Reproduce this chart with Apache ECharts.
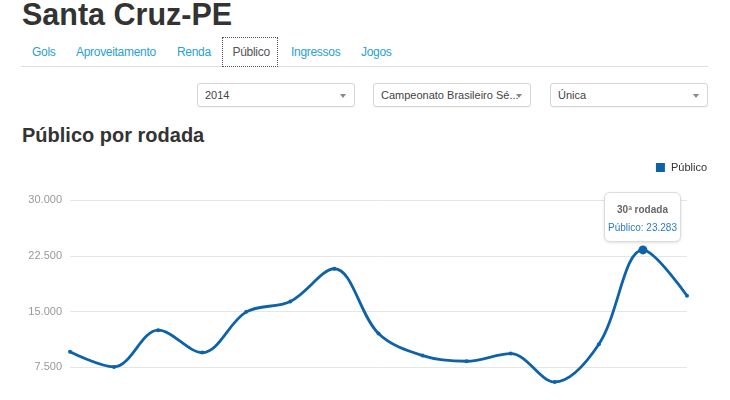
<!DOCTYPE html>
<html>
<head>
<meta charset="utf-8">
<script src="https://cdn.jsdelivr.net/npm/echarts@6/dist/echarts.min.js"></script>
<style>
  html, body { margin:0; padding:0; width:730px; height:400px; overflow:hidden; background:#fff; font-family:"Liberation Sans", Arial, sans-serif; }
  .t { position:absolute; white-space:nowrap; }
  .h1 { left:22px; top:-1px; font-size:30.5px; line-height:30.5px; font-weight:bold; color:#333; }
  .tab { top:46px; font-size:12px; line-height:12px; color:#2a9fd6; letter-spacing:-0.3px; }
  .tab.act { color:#555; }
  .tabline { position:absolute; left:21px; width:687px; top:66px; height:1px; background:#ddd; }
  .tabbox { position:absolute; left:222px; top:37px; width:54px; height:28px; border:1px dotted #555; background:#fff; }
  .sel { position:absolute; top:83px; width:156px; height:22px; border:1px solid #d4d4d4; border-radius:3px; background:#fff; box-shadow:0 1px 1px rgba(0,0,0,0.04); }
  .sel span { position:absolute; left:7px; top:6px; font-size:11px; line-height:11px; color:#444; }
  .sel i { position:absolute; right:8px; top:10px; width:0; height:0; border-left:3.5px solid transparent; border-right:3.5px solid transparent; border-top:4px solid #888; }
  .h2 { left:22px; top:124.5px; font-size:20px; line-height:20px; font-weight:bold; color:#333; }
  #chart { position:absolute; left:0; top:150px; width:730px; height:300px; }
</style>
</head>
<body>
<div class="t h1">Santa Cruz-PE</div>
<div class="tabline"></div>
<div class="tabbox"></div>
<div class="t tab" style="left:32px">Gols</div>
<div class="t tab" style="left:76px">Aproveitamento</div>
<div class="t tab" style="left:177px">Renda</div>
<div class="t tab act" style="left:232.5px">Público</div>
<div class="t tab" style="left:291px">Ingressos</div>
<div class="t tab" style="left:361px">Jogos</div>
<div class="sel" style="left:197px"><span>2014</span><i></i></div>
<div class="sel" style="left:373px"><span>Campeonato Brasileiro Sé...</span><i></i></div>
<div class="sel" style="left:550px"><span>Única</span><i></i></div>
<div class="t h2">Público por rodada</div>
<div id="chart"></div>
<script>
// Data
var rodadas = ['1ª rodada','3ª rodada','5ª rodada','8ª rodada','10ª rodada','12ª rodada','14ª rodada','16ª rodada','18ª rodada','20ª rodada','22ª rodada','25ª rodada','27ª rodada','30ª rodada','32ª rodada'];
var publico = [9600, 7550, 12490, 9470, 14950, 16350, 20750, 12030, 9070, 8310, 9340, 5520, 10600, 23283, 17110];
var yTicks = [0, 7500, 15000, 22500, 30000];
var seriesName = 'Público';
var highlightIndex = 13;

function fmt(v) { return String(v).replace(/\B(?=(\d{3})+(?!\d))/g, '.'); }

var color = '#0e62a8';
var chart = echarts.init(document.getElementById('chart'), null, { renderer: 'canvas' });
chart.setOption({
  animation: false,
  textStyle: { fontFamily: '"Liberation Sans", Arial, sans-serif' },
  legend: {
    right: 18, top: 7,
    icon: 'rect', itemWidth: 9, itemHeight: 9, itemGap: 10,
    textStyle: { fontSize: 11, color: '#333', padding: [0, 0, 0, 1] },
    data: [seriesName]
  },
  grid: { left: 70, right: 43, top: 50, height: 223, containLabel: false },
  tooltip: {
    trigger: 'item',
    triggerOn: 'none',
    alwaysShowContent: true,
    transitionDuration: 0,
    backgroundColor: '#fff',
    borderColor: '#dcdcdc',
    borderWidth: 1,
    borderRadius: 6,
    padding: 0,
    extraCssText: 'box-shadow:0 1px 3px rgba(0,0,0,0.12);',
    position: function (point, params, dom, rect, size) {
      return [point[0] - size.contentSize[0] / 2, point[1] - size.contentSize[1] - 8];
    },
    formatter: function (p) {
      return '<div style="width:75px;height:48px;text-align:center;font-family:\'Liberation Sans\',Arial,sans-serif;">' +
        '<div style="padding-top:11px;font-size:10px;line-height:11px;font-weight:bold;color:#666;">' + p.name + '</div>' +
        '<div style="padding-top:7px;font-size:10px;line-height:11px;color:#2b7bbf;">' + p.seriesName + ': ' + fmt(p.value) + '</div>' +
        '</div>';
    }
  },
  xAxis: {
    type: 'category',
    data: rodadas,
    boundaryGap: false,
    axisLine: { show: false },
    axisTick: { show: false },
    axisLabel: { color: '#999', fontSize: 11 },
    splitLine: { show: false }
  },
  yAxis: {
    type: 'value',
    min: yTicks[0], max: yTicks[yTicks.length - 1], interval: yTicks[1] - yTicks[0],
    axisLine: { show: false },
    axisTick: { show: false },
    axisLabel: { color: '#999', fontSize: 11, margin: 8, formatter: function (v) { return fmt(v); } },
    splitLine: { lineStyle: { color: '#e5e5e5', width: 1 } }
  },
  series: [{
    name: seriesName,
    type: 'line',
    data: publico,
    smooth: 0.35,
    symbol: 'circle',
    symbolSize: function (v, params) { return params.dataIndex === highlightIndex ? 9 : 4; },
    showAllSymbol: true,
    lineStyle: { color: color, width: 2.8 },
    itemStyle: { color: color },
    emphasis: { disabled: true }
  }]
});
chart.dispatchAction({ type: 'showTip', seriesIndex: 0, dataIndex: highlightIndex });
</script>
</body>
</html>
